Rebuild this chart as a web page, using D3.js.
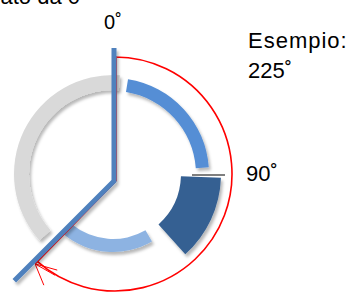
<!DOCTYPE html>
<html>
<head>
<meta charset="utf-8">
<script src="https://cdn.jsdelivr.net/npm/d3@7"></script>
<style>
  body { margin: 0; background: #fff; }
  svg { display: block; font-family: "Liberation Sans", Arial, sans-serif; }
</style>
</head>
<body>
<svg id="chart"></svg>
<script>
// segments of the dial, angles in degrees clockwise from 12 o'clock
var segNames  = ["primo", "secondo", "terzo", "quarto"];
var segStart  = [9, 92, 150, 228];
var segEnd    = [86, 138, 219, 364];
var segColors = ["#558ed5", "#366092", "#8db3e2", "#d9d9d9"];

// hands of the clock
var handAngles = [0, 225];
var exampleAngle = 225;

// angle labels
var markAngles = [0, 90];
var markLabels = ["0˚", "90˚"];
var noteLines  = ["Esempio:", "225˚"];
var topText    = "misurato da 0";

var width = 350, height = 293;

// layout (positions/sizes)
var cx = 113, cy = 174;
var segRadii = [[83, 96], [68, 108], [65, 78], [84, 99]];
var hub = {x: 114, y: 181};
var handLen = [133, 141];
var redC = {x: 115, y: 174}, redR = 117;

var svg = d3.select("#chart")
    .attr("width", width)
    .attr("height", height);

var defs = svg.append("defs");
var shadow = defs.append("filter").attr("id", "shadow")
    .attr("x", "-20%").attr("y", "-20%").attr("width", "140%").attr("height", "140%");
shadow.append("feDropShadow")
    .attr("dx", 2).attr("dy", 3).attr("stdDeviation", 1.6)
    .attr("flood-color", "#000").attr("flood-opacity", 0.28);

//Scale degrees to radians
var ang = d3.scaleLinear().domain([0, 360]).range([0, 2 * Math.PI]);

var g = svg.append("g").attr("transform", "translate(" + cx + "," + cy + ")");

//Arcs
var arc = d3.arc();
g.selectAll(".seg")
    .data(segNames)
  .enter().append("path")
    .attr("class", "seg")
    .attr("d", function(d, i){
      return arc({innerRadius: segRadii[i][0], outerRadius: segRadii[i][1],
                  startAngle: ang(segStart[i]), endAngle: ang(segEnd[i])});
    })
    .style("fill", function(d, i){ return segColors[i]; })
    .attr("filter", "url(#shadow)");

//Tick at 90
var t = ang(markAngles[1]);
g.append("line")
    .attr("x1", 79 * Math.sin(t)).attr("y1", -79 * Math.cos(t) + 1)
    .attr("x2", 112 * Math.sin(t)).attr("y2", -112 * Math.cos(t) + 1)
    .style("stroke", "#000")
    .style("stroke-width", 1.2);

//Red arrow path: up along the hand, round clockwise, back along the hand
function polar(c, r, deg){
  var a = ang(deg);
  return [c.x + r * Math.sin(a), c.y - r * Math.cos(a)];
}
var hEnd = polar(hub, 113, exampleAngle);
var tip = [hEnd[0] + 1, hEnd[1] + 3];
var p = d3.path();
p.moveTo(hub.x + 2, hub.y);
p.lineTo(redC.x + 1, redC.y - redR);
var endA = Math.atan2(tip[0] - redC.x, -(tip[1] - redC.y));
if (endA < 0) endA += 2 * Math.PI;
var tipR = Math.hypot(tip[0] - redC.x, tip[1] - redC.y);
p.arc(redC.x, redC.y, redR, -Math.PI / 2, endA - Math.PI / 2, false);
p.lineTo(tip[0], tip[1]);
p.lineTo(hub.x + 2, hub.y);
svg.append("path")
    .attr("d", p.toString())
    .style("fill", "none")
    .style("stroke", "#ff0000")
    .style("stroke-width", 1.6);

//Arrow head (open, pointing along the clockwise direction)
var bx = -Math.cos(endA), by = -Math.sin(endA);
[-26, -12, 26].forEach(function(dg){
  var r = dg * Math.PI / 180;
  var vx = bx * Math.cos(r) - by * Math.sin(r);
  var vy = bx * Math.sin(r) + by * Math.cos(r);
  svg.append("line")
      .attr("x1", tip[0]).attr("y1", tip[1])
      .attr("x2", tip[0] + 23 * vx).attr("y2", tip[1] + 23 * vy)
      .style("stroke", "#ff0000")
      .style("stroke-width", 1);
});

//Hands
var h0 = polar(hub, handLen[0], handAngles[0]);
var h1 = polar(hub, handLen[1], handAngles[1]);
svg.append("path")
    .attr("d", d3.line()([h0, [hub.x, hub.y], h1]))
    .style("fill", "none")
    .style("stroke", "#4f81bd")
    .style("stroke-width", 5)
    .style("stroke-linejoin", "miter")
    .attr("filter", "url(#shadow)");

//Labels
svg.append("text")
    .attr("x", 113).attr("y", 29)
    .attr("text-anchor", "middle")
    .style("font-size", "20px")
    .text(markLabels[0]);

svg.append("text")
    .attr("x", 246).attr("y", 181)
    .style("font-size", "22px")
    .text(markLabels[1]);

svg.selectAll(".note")
    .data(noteLines)
  .enter().append("text")
    .attr("class", "note")
    .attr("x", 248)
    .attr("y", function(d, i){ return 48 + i * 30; })
    .style("font-size", "22px")
    .style("letter-spacing", function(d, i){ return i === 0 ? "1px" : "0px"; })
    .text(function(d){ return d; });

svg.append("text")
    .attr("x", 80).attr("y", 4)
    .attr("text-anchor", "end")
    .style("font-size", "22px")
    .text(topText);
</script>
</body>
</html>
